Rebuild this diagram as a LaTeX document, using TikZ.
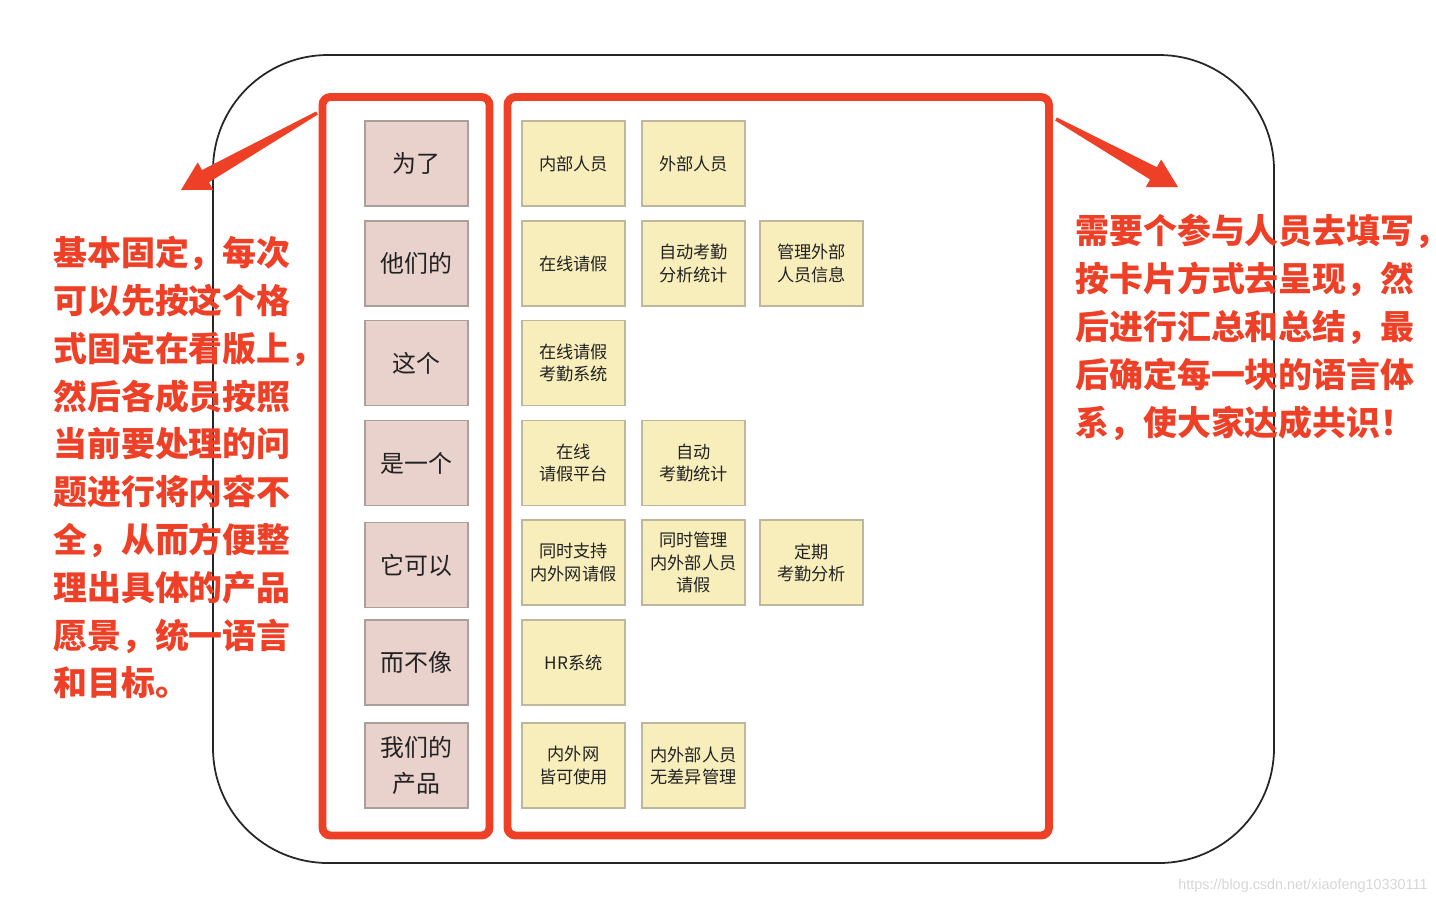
\documentclass[tikz,border=0pt]{standalone}
\usepackage{fontspec}
\setmainfont{Noto Sans CJK SC}
\newfontfamily\urlfont{Liberation Sans}
\usetikzlibrary{calc}
\definecolor{redline}{HTML}{EE4027}
\definecolor{pinkcard}{HTML}{E9D1CC}
\definecolor{pinkline}{HTML}{A99F9C}
\definecolor{yellowcard}{HTML}{F8EEBC}
\definecolor{yellowline}{HTML}{BDB79B}
\definecolor{cardtext}{HTML}{222222}
\definecolor{urlgray}{HTML}{D6D6D6}
\tikzset{
  sketch/.style={draw=black!85,line width=1pt,rounded corners=2.3cm},
  boardframe/.style={draw=redline,line width=4.5pt,rounded corners=0.16cm},
  askcard/.style={draw=pinkline,fill=pinkcard,line width=0.6pt,minimum width=2.06cm,minimum height=1.7cm,
    inner sep=0pt,align=center,text=cardtext,font=\fontsize{13.6}{20.4}\selectfont},
  ideacard/.style={draw=yellowline,fill=yellowcard,line width=0.6pt,minimum width=2.06cm,minimum height=1.7cm,
    inner sep=0pt,align=center,text=cardtext,font=\fontsize{9.8}{12.6}\selectfont},
  remark/.style={text=redline,font=\bfseries\fontsize{19.3}{27.2}\selectfont,align=left,inner sep=0pt,anchor=north west},
  redarrow/.style={fill=redline},
}

\begin{document}
\begin{tikzpicture}[x=0.02cm,y=-0.02cm]
\useasboundingbox (0,0) rectangle (1436,904);
\draw[sketch] (213,55) rectangle (1274,863);
\draw[boardframe] (322.5,97) rectangle (489.5,835.5);
\draw[boardframe] (507.5,97) rectangle (1049,835.5);

\node[askcard] (q1) at (416.5,163.5) {为了};
\node[askcard] (q2) at (416.5,263.5) {他们的};
\node[askcard] (q3) at (416.5,363) {这个};
\node[askcard] (q4) at (416.5,463) {是一个};
\node[askcard] (q5) at (416.5,565) {它可以};
\node[askcard] (q6) at (416.5,662.5) {而不像};
\node[askcard] (q7) at (416.5,765.5) {我们的\\产品};

\node[ideacard] (c11) at (573.5,163.5) {内部人员};
\node[ideacard] (c12) at (693.5,163.5) {外部人员};
\node[ideacard] (c21) at (573.5,263.5) {在线请假};
\node[ideacard] (c22) at (693.5,263.5) {自动考勤\\分析统计};
\node[ideacard] (c23) at (811.5,263.5) {管理外部\\人员信息};
\node[ideacard] (c31) at (573.5,363) {在线请假\\考勤系统};
\node[ideacard] (c41) at (573.5,463) {在线\\请假平台};
\node[ideacard] (c42) at (693.5,463) {自动\\考勤统计};
\node[ideacard] (c51) at (573.5,562.5) {同时支持\\内外网请假};
\node[ideacard] (c52) at (693.5,562.5) {同时管理\\内外部人员\\请假};
\node[ideacard] (c53) at (811.5,562.5) {定期\\考勤分析};
\node[ideacard] (c61) at (573.5,662.5) {HR系统};
\node[ideacard] (c71) at (573.5,765.5) {内外网\\皆可使用};
\node[ideacard] (c72) at (693.5,765.5) {内外部人员\\无差异管理};

\node[remark] (lnote) at (53,236) {基本固定，每次\\可以先按这个格\\式固定在看版上，\\然后各成员按照\\当前要处理的问\\
  题进行将内容不\\全，从而方便整\\理出具体的产品\\愿景，统一语言\\和目标。};
\node[remark] (rnote) at (1075,214) {需要个参与人员去填写，\\按卡片方式去呈现，然\\后进行汇总和总结，最\\
  后确定每一块的语言体\\系，使大家达成共识！};
\node[text=urlgray,font=\urlfont\fontsize{8.2}{10}\selectfont,anchor=east,inner sep=0pt] (url) at (1428,886)
  {https://blog.csdn.net/xiaofeng10330111};

\coordinate (ls) at (317,113);
\coordinate (lt) at (181,190);
\coordinate (ln) at ($(lt)!16pt!(ls)$);
\fill[redarrow] ($(ls)!1pt!90:(lt)$) -- ($(ln)!4pt!-90:(ls)$) -- ($(ln)!9pt!-90:(ls)$) -- (lt)
  -- ($(ln)!9pt!90:(ls)$) -- ($(ln)!4pt!90:(ls)$) -- ($(ls)!1pt!-90:(lt)$) -- cycle;
\coordinate (rs) at (1056,119);
\coordinate (rt) at (1178,187);
\coordinate (rn) at ($(rt)!16pt!(rs)$);
\fill[redarrow] ($(rs)!1pt!90:(rt)$) -- ($(rn)!4pt!-90:(rs)$) -- ($(rn)!9pt!-90:(rs)$) -- (rt)
  -- ($(rn)!9pt!90:(rs)$) -- ($(rn)!4pt!90:(rs)$) -- ($(rs)!1pt!-90:(rt)$) -- cycle;
\end{tikzpicture}
\end{document}
